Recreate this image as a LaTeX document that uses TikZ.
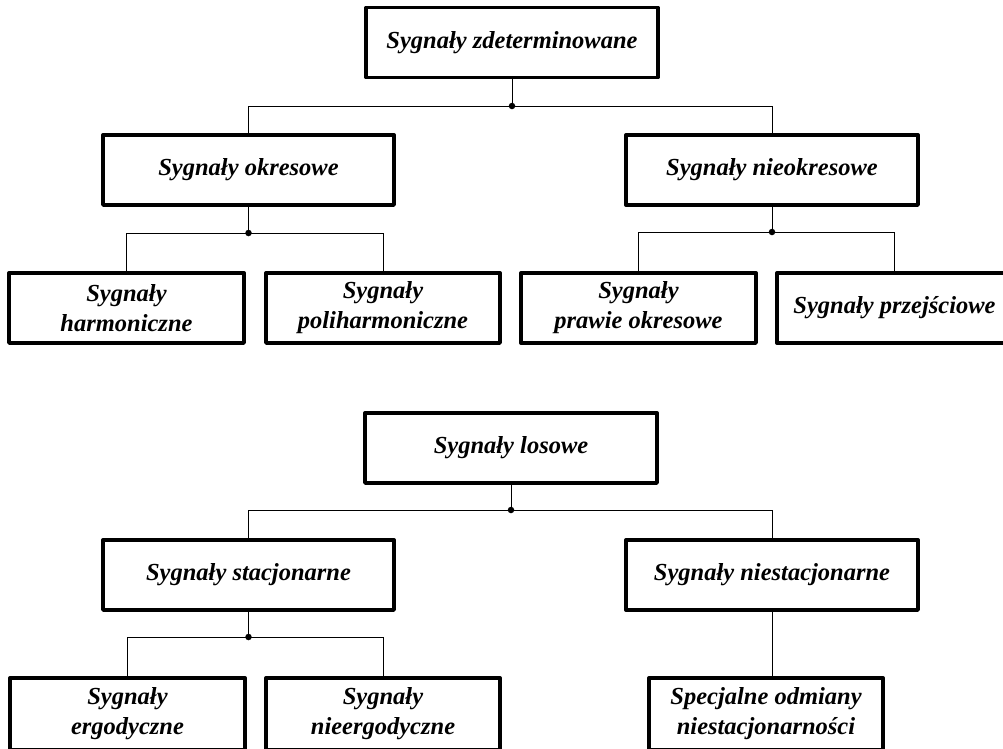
\documentclass[tikz,border=0pt]{standalone}
\usepackage{fontspec}
\setmainfont{Liberation Serif}
\begin{document}
\begin{tikzpicture}[x=1pt,y=-1pt,
  box/.style={draw,line width=3.4pt,line join=round,rectangle,inner sep=0pt,
    minimum height=70pt,align=center,
    font=\fontsize{24.5}{30}\selectfont\bfseries\itshape},
  wide/.style={box,minimum width=292pt},
  narrow/.style={box,minimum width=235pt},
  link/.style={line width=1pt},
  dot/.style={circle,fill,inner sep=0pt,minimum size=6.5pt}]
\useasboundingbox (0,0) rectangle (1003,748);
\begin{scope}
\clip (0,0) rectangle (1003,748);
% top tree
\node[wide] (zdet) at (512,42.5) {Sygnały zdeterminowane};
\node[wide,minimum width=291pt] (okres) at (248.5,170) {Sygnały okresowe};
\node[wide] (nieokres) at (772,170) {Sygnały nieokresowe};
\node[narrow] (harm) at (126.5,308) {Sygnały\\harmoniczne};
\node[narrow,minimum width=234pt] (poli) at (383,308) {Sygnały\\poliharmoniczne};
\node[narrow] (prawie) at (638.5,308) {Sygnały\\prawie okresowe};
\node[narrow] (przej) at (894.5,308) {Sygnały przejściowe};
% bottom tree
\node[wide] (losowe) at (511,448) {Sygnały losowe};
\node[wide,minimum width=291pt] (stacj) at (248.5,575) {Sygnały stacjonarne};
\node[wide] (niestacj) at (772,575) {Sygnały niestacjonarne};
\node[narrow,minimum height=72pt] (ergo) at (127.5,714) {Sygnały\\ergodyczne};
\node[narrow,minimum height=72pt,minimum width=234pt] (nieergo) at (383,714) {Sygnały\\nieergodyczne};
\node[narrow,minimum height=72pt,minimum width=234pt] (specj) at (766,714) {Specjalne odmiany\\niestacjonarności};
% junctions
\node[dot] (d1) at (512,106) {};
\node[dot] (d2) at (248.5,233) {};
\node[dot] (d3) at (772,232) {};
\node[dot] (d4) at (511,510) {};
\node[dot] (d5) at (248.5,637) {};
% connectors
\draw[link] (zdet.south) -- (d1.center);
\draw[link] (d1.center) -| (okres.north);
\draw[link] (d1.center) -| (nieokres.north);
\draw[link] (okres.south) -- (d2.center);
\draw[link] (d2.center) -| (harm.north);
\draw[link] (d2.center) -| (poli.north);
\draw[link] (nieokres.south) -- (d3.center);
\draw[link] (d3.center) -| (prawie.north);
\draw[link] (d3.center) -| (przej.north);
\draw[link] (losowe.south) -- (d4.center);
\draw[link] (d4.center) -| (stacj.north);
\draw[link] (d4.center) -| (niestacj.north);
\draw[link] (stacj.south) -- (d5.center);
\draw[link] (d5.center) -| (ergo.north);
\draw[link] (d5.center) -| (nieergo.north);
\draw[link] (niestacj.south) -- (niestacj.south |- specj.north);
\end{scope}
\end{tikzpicture}
\end{document}
